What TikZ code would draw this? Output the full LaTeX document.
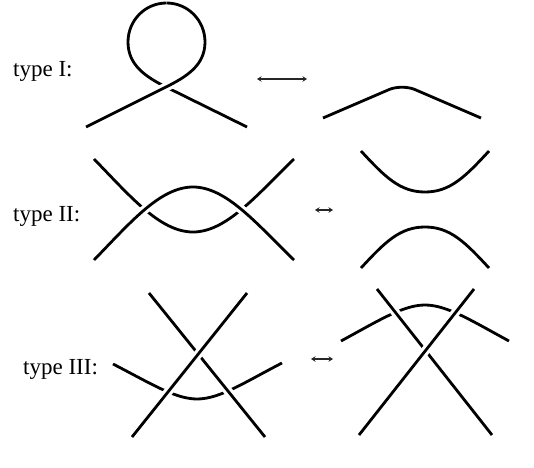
\documentclass[tikz,border=0pt]{standalone}
\usepackage{fontspec}
\setmainfont{Liberation Serif}
\usetikzlibrary{arrows.meta}

\begin{document}
\begin{tikzpicture}[
  x=1pt,y=1pt,
  font=\fontsize{23}{27}\selectfont,
  strand/.style={line width=2.8pt},
  over/.style={strand,preaction={draw,white,line width=9pt}},
  move/.style={{Stealth[length=4.5pt,width=5.5pt,inset=1.5pt]}-{Stealth[length=4.5pt,width=5.5pt,inset=1.5pt]},line width=1.2pt,black!85},
  lbl/.style={anchor=base west,inner sep=0pt},
]
\useasboundingbox (0,0) rectangle (534,467);

% labels
\node[lbl] (typeI)   at (13,391) {type I:};
\node[lbl] (typeII)  at (13,246) {type II:};
\node[lbl] (typeIII) at (23,93)  {type III:};

% type I
\draw[strand] (166.5,464) to[out=180,in=90] (128,425) to[out=-90,in=153.4] (166,380) -- (247,340);
\draw[over] (86,340) -- (166,380) to[out=26.6,in=-90] (205,425) to[out=90,in=0] (166.5,464);
\coordinate (mvIa) at (257,388);
\coordinate (mvIb) at (307,388);
\draw[move] (mvIa) -- (mvIb);
\draw[strand,rounded corners=14pt] (323,349) -- (402,383) -- (481,349);

% type II
\draw[strand] (94,308) .. controls (130,271) and (160,235) .. (193,235)
  .. controls (226,235) and (256,271) .. (294,308);
\draw[over] (94,207) .. controls (130,244) and (160,280) .. (193,280)
  .. controls (226,280) and (256,244) .. (294,207);
\coordinate (mvIIa) at (315,257);
\coordinate (mvIIb) at (333,257);
\draw[move] (mvIIa) -- (mvIIb);
\draw[strand] (361,316) .. controls (385,290) and (400,275) .. (425,275)
  .. controls (450,275) and (465,290) .. (489,316);
\draw[strand] (361,199) .. controls (385,225) and (400,240) .. (425,240)
  .. controls (450,240) and (465,225) .. (489,199);

% type III
\draw[strand] (113,103) .. controls (150,84) and (175,68) .. (197,68)
  .. controls (220,68) and (245,85) .. (282,104);
\draw[over] (149,174) -- (265,30);
\draw[over] (132,30) -- (247,174);
\coordinate (mvIIIa) at (311,108);
\coordinate (mvIIIb) at (333,108);
\draw[move] (mvIIIa) -- (mvIIIb);
\draw[strand] (341,126) .. controls (378,146) and (403,162) .. (425,162)
  .. controls (447,162) and (472,146) .. (509,126);
\draw[over] (377,178) -- (492,32);
\draw[over] (359,32) -- (474,178);
\end{tikzpicture}
\end{document}
